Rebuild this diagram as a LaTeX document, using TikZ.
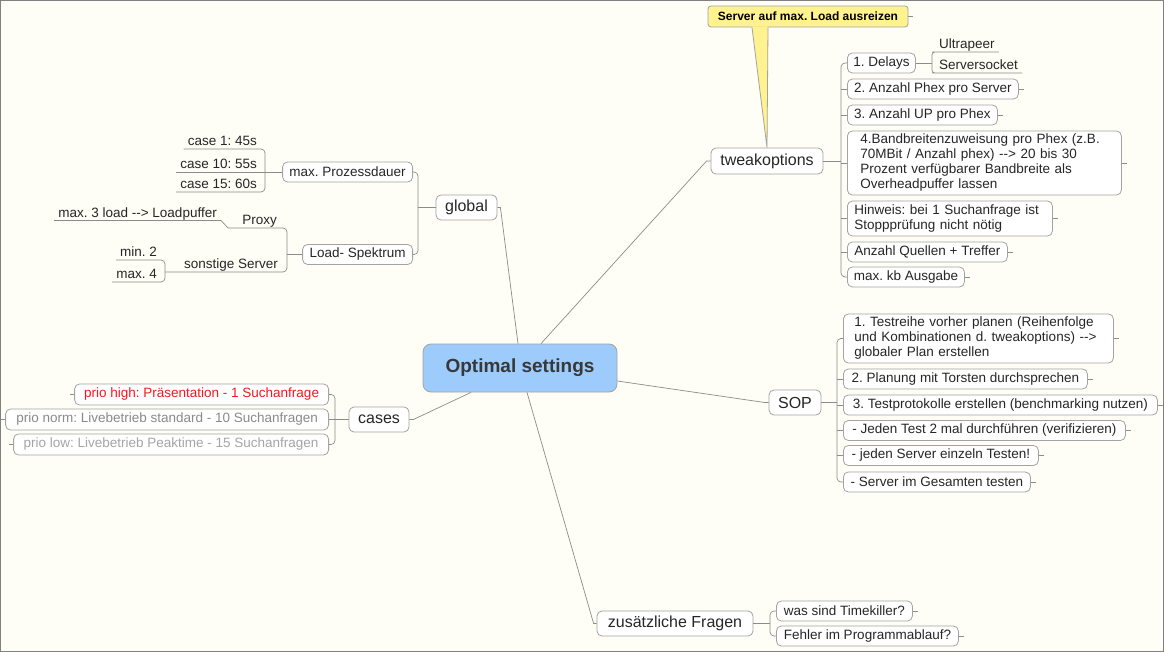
\documentclass[tikz,border=0pt]{standalone}
\usepackage{fontspec}
\setmainfont{Liberation Sans}
\usetikzlibrary{positioning}
\frenchspacing

\definecolor{paper}{HTML}{FEFEF6}
\definecolor{wire}{HTML}{8C8C8C}
\definecolor{boxline}{HTML}{A3A3A3}
\definecolor{rootblue}{HTML}{9DCBFC}
\definecolor{noteyellow}{HTML}{FFF28F}
\definecolor{prohigh}{HTML}{F2191C}
\definecolor{pronorm}{HTML}{8A8A8A}
\definecolor{prolow}{HTML}{A5A5A5}

\newcommand{\arrowtxt}{\mbox{-}\mbox{-}>}

\begin{document}
\begin{tikzpicture}[
    x=1pt, y=-1pt,
    every node/.style={font=\fontsize{13.5}{15}\selectfont, text=black!85},
    topic/.style={draw=boxline, fill=white, rounded corners=5pt, line width=0.8pt,
                  inner sep=0pt, minimum height=20pt},
    main/.style={topic, font=\fontsize{16}{18}\selectfont, minimum height=25pt},
    leaf/.style={inner xsep=4pt, inner ysep=0pt, text height=10pt, text depth=3pt},
    link/.style={draw=wire, line width=0.7pt}
]

% ---------------- Background ----------------
\useasboundingbox (0,0) rectangle (1164,652);
\fill[paper] (0,0) rectangle (1164,652);
\draw[black!50, line width=1pt] (0.5,0.5) rectangle (1163.5,651.5);

% ---------------- Centre + main topics ----------------
\node[draw=boxline, fill=rootblue, rounded corners=8pt, line width=0.8pt,
      minimum width=194pt, minimum height=48pt,
      font=\bfseries\fontsize{19}{21}\selectfont, text=black!78] (root) at (520,368) {Optimal settings};
\node[main, minimum width=112pt, minimum height=26pt] (tweak) at (767,161) {tweakoptions};
\node[main, minimum width=61pt] (global) at (466.5,207.5) {global};
\node[main, minimum width=60pt] (cases) at (379,419.5) {cases};
\node[main, minimum width=52pt] (sop) at (795,402.5) {SOP};
\node[main, minimum width=156pt] (extra) at (675,623.5) {zusätzliche Fragen};

% callout
\node[draw=boxline, fill=noteyellow, rounded corners=3pt, line width=0.8pt,
      minimum width=200pt, minimum height=21pt, inner sep=0pt,
      font=\bfseries\fontsize{12}{14}\selectfont, text=black] (note) at (808,16.5) {Server auf max. Load ausreizen};
\fill[noteyellow] ([xshift=-56pt,yshift=1pt]note.south) -- (tweak.north) -- ([xshift=-40pt,yshift=1pt]note.south) -- cycle;
\draw[boxline, line width=0.8pt] ([xshift=-56pt]note.south) -- (tweak.north) -- ([xshift=-40pt]note.south);

% ---------------- tweakoptions ----------------
\node[topic, anchor=west, minimum width=68pt] (delays) at (847,63) {1. Delays};
\node[topic, anchor=west, minimum width=171pt] (phex) at (847,89) {2. Anzahl Phex pro Server};
\node[topic, anchor=west, minimum width=150pt] (upphex) at (847,115) {3. Anzahl UP pro Phex};
\node[topic, anchor=west, inner xsep=13pt, text width=248pt, minimum height=64pt, align=left] (band) at (847,163)
    {4.Bandbreitenzuweisung pro Phex (z.B.\\70MBit / Anzahl phex) \arrowtxt\ 20 bis 30\\Prozent verfügbarer Bandbreite als\\Overheadpuffer lassen};
\node[topic, anchor=west, inner xsep=7pt, text width=191pt, minimum height=35pt, align=left] (hint) at (847,218.5)
    {Hinweis: bei 1 Suchanfrage ist\\Stopppr\"ufung nicht n\"otig};
\node[topic, anchor=west, minimum width=160pt] (sources) at (847,252) {Anzahl Quellen + Treffer};
\node[topic, anchor=west, minimum width=117pt] (maxkb) at (847,277) {max. kb Ausgabe};
\node[leaf, anchor=south west] (ultra) at (935,52) {Ultrapeer};
\node[leaf, anchor=south west] (socket) at (935,73) {Serversocket};

% ---------------- SOP ----------------
\node[topic, anchor=west, inner xsep=11pt, text width=248pt, minimum height=49pt, align=left] (plan) at (843,338.5)
    {1. Testreihe vorher planen (Reihenfolge\\und Kombinationen d. tweakoptions) \arrowtxt\\globaler Plan erstellen};
\node[topic, anchor=west, minimum width=244pt] (talk) at (843,379) {2. Planung mit Torsten durchsprechen};
\node[topic, anchor=west, minimum width=314pt] (protocol) at (843,405) {3. Testprotokolle erstellen (benchmarking nutzen)};
\node[topic, anchor=west, minimum width=282pt] (twice) at (843,430.5) {- Jeden Test 2 mal durchführen (verifizieren)};
\node[topic, anchor=west, minimum width=195pt] (single) at (843,455.5) {- jeden Server einzeln Testen!};
\node[topic, anchor=west, minimum width=187pt] (whole) at (843,482) {- Server im Gesamten testen};

% ---------------- global ----------------
\node[topic, anchor=east, minimum width=130pt] (duration) at (413,172) {max. Prozessdauer};
\node[topic, anchor=east, minimum width=110pt] (spectrum) at (413,254.5) {Load- Spektrum};
\node[leaf, anchor=south east] (case1) at (261,149) {case 1: 45s};
\node[leaf, anchor=south east] (case10) at (261,172) {case 10: 55s};
\node[leaf, anchor=south east] (case15) at (261,192) {case 15: 60s};
\node[leaf, anchor=south east] (proxy) at (281,228) {Proxy};
\node[leaf, anchor=south east] (buffer) at (221,220.5) {max. 3 load \arrowtxt\ Loadpuffer};
\node[leaf, anchor=south east] (others) at (282,272) {sonstige Server};
\node[leaf, anchor=south east] (min2) at (161,260) {min. 2};
\node[leaf, anchor=south east] (max4) at (161,282) {max. 4};

% ---------------- cases ----------------
\node[topic, anchor=east, minimum width=254pt, minimum height=21pt, text=prohigh] (high) at (329,394.5)
    {prio high: Präsentation - 1 Suchanfrage};
\node[topic, anchor=east, minimum width=323pt, minimum height=21pt, text=pronorm] (norm) at (329,419.5)
    {prio norm: Livebetrieb standard - 10 Suchanfragen};
\node[topic, anchor=east, minimum width=315pt, minimum height=21pt, text=prolow] (low) at (329,444.5)
    {prio low: Livebetrieb Peaktime - 15 Suchanfragen};

% ---------------- zusaetzliche Fragen ----------------
\node[topic, anchor=west, minimum width=136pt] (timek) at (776,611) {was sind Timekiller?};
\node[topic, anchor=west, minimum width=182pt] (flow) at (776,636) {Fehler im Programmablauf?};

% ---------------- Connectors ----------------
% centre to main topics
\draw[link] ([xshift=-2pt]root.north) -- ([xshift=3pt]global.east) -- (global.east);
\draw[link] ([xshift=21pt]root.north) -- ([xshift=-4pt]tweak.west) -- (tweak.west);
\draw[link] ([yshift=-13pt]root.east) -- ([xshift=-4pt]sop.west) -- (sop.west);
\draw[link] ([xshift=-49pt]root.south) -- ([xshift=4pt]cases.east) -- (cases.east);
\draw[link] ([xshift=7pt]root.south) -- ([xshift=-3pt]extra.west) -- (extra.west);

% tweakoptions
\coordinate (tbr) at (841,161);
\draw[link] (tweak.east) -- (tbr);
\draw[link, rounded corners=4pt] (delays.west) -| (tbr) |- (maxkb.west);
\foreach \n in {phex,upphex,band,hint,sources}
    \draw[link] (\n.west -| tbr) -- (\n.west);
\coordinate (dbr) at (932,63);
\draw[link] (delays.east) -- (dbr);
\draw[link, rounded corners=3pt] (ultra.south east) -- (ultra.south west) -| (dbr) |- (socket.south west) -- (socket.south east);

% SOP
\coordinate (sbr) at (837,402.5);
\draw[link] (sop.east) -- (sbr);
\draw[link, rounded corners=4pt] (plan.west) -| (sbr) |- (whole.west);
\foreach \n in {talk,protocol,twice,single}
    \draw[link] (\n.west -| sbr) -- (\n.west);

% global
\coordinate (gbr) at (418,207.5);
\draw[link] (global.west) -- (gbr);
\draw[link, rounded corners=4pt] (duration.east) -| (gbr) |- (spectrum.east);
\coordinate (pbr) at (265,172);
\draw[link] (duration.west) -- (case10.south west);
\draw[link, rounded corners=4pt] (case1.south west) -| (pbr) |- (case15.south west);
\coordinate (lbr) at (287,254.5);
\coordinate (mbr) at (165,272);
\draw[link] (spectrum.west) -- (lbr);
\draw[link] (buffer.south west) -- (buffer.south east) -- ([xshift=-10pt]proxy.south west);
\draw[link, rounded corners=4pt] ([xshift=-10pt]proxy.south west) -| (lbr) |- (mbr);
\draw[link, rounded corners=4pt] (min2.south west) -| (mbr) |- (max4.south west);

% cases
\coordinate (cbr) at (335,419.5);
\draw[link] (cases.west) -- (cbr);
\draw[link, rounded corners=4pt] (high.east) -| (cbr) |- (low.east);
\draw[link] (norm.east) -- (cbr);

% zusaetzliche Fragen
\coordinate (zbr) at (770,623.5);
\draw[link] (extra.east) -- (zbr);
\draw[link, rounded corners=4pt] (timek.west) -| (zbr) |- (flow.west);

% stubs
\foreach \n in {note,phex,upphex,band,hint,sources,maxkb,plan,talk,protocol,twice,single,whole,timek,flow}
    \draw[link] (\n.east) -- ++(5,0);
\foreach \n in {high,norm,low}
    \draw[link] (\n.west) -- ++(-4,0);

\end{tikzpicture}
\end{document}
